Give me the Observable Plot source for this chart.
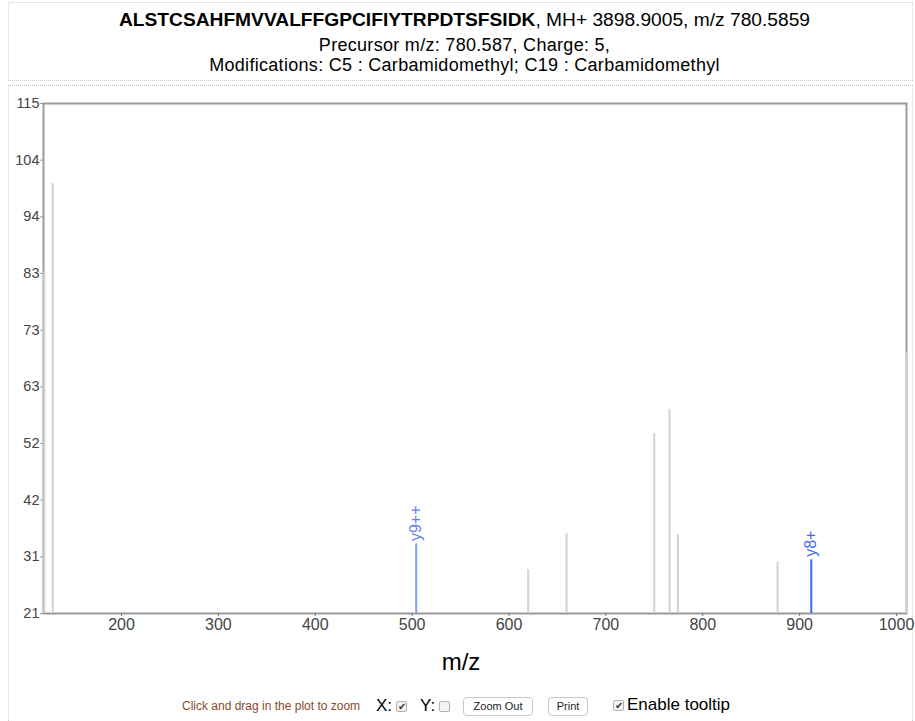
<!DOCTYPE html>
<html>
<head>
<meta charset="utf-8">
<script src="https://cdn.jsdelivr.net/npm/d3@7"></script>
<script src="https://cdn.jsdelivr.net/npm/@observablehq/plot@0.6"></script>
<style>
  html, body { margin: 0; padding: 0; background: #fff; }
  body { width: 915px; height: 721px; position: relative; overflow: hidden; font-family: "Liberation Sans", Arial, sans-serif; }
  .box { position: absolute; border: 1px dotted #c3d0d9; box-sizing: border-box; }
  .line { position: absolute; left: 7px; width: 100%; text-align: center; white-space: nowrap; color: #000; line-height: 17px; font-size: 18px; letter-spacing: 0.3px; }
  #chart { position: absolute; left: 0; top: 85px; }
  #xlabel { position: absolute; left: 411px; width: 100px; text-align: center; top: 650px; font-size: 24px; line-height: 24px; color: #000; }
  .ctl { position: absolute; white-space: nowrap; }
  .btn { position: absolute; top: 697px; height: 19px; border: 1px solid #c8c8c8; border-radius: 4px; box-sizing: border-box; font-size: 11px; line-height: 17px; text-align: center; background: #fff; color: #222; }
  .cb { position: absolute; width: 11px; height: 11px; border: 1px solid #b0b0b0; border-radius: 2px; box-sizing: border-box; background: #f4f4f4; font-size: 10px; line-height: 9px; text-align: center; color: #333; }
</style>
</head>
<body>
<div class="box" style="left:8px; top:2px; width:905px; height:79px;"></div>
<div class="box" style="left:8px; top:85px; width:905px; height:660px;"></div>
<div class="line" style="top:11px; font-size:19.2px; letter-spacing:0;"><b>ALSTCSAHFMVVALFFGPCIFIYTRPDTSFSIDK</b>, MH+ 3898.9005, m/z 780.5859</div>
<div class="line" style="top:36.5px;">Precursor m/z: 780.587, Charge: 5,</div>
<div class="line" style="top:57px;">Modifications: C5 : Carbamidomethyl; C19 : Carbamidomethyl</div>
<div id="chart"></div>
<div id="xlabel">m/z</div>
<div class="ctl" style="left:182px; top:699px; font-size:12px; color:#8b4a2b;">Click and drag in the plot to zoom</div>
<div class="ctl" style="left:376px; top:696px; font-size:17px; color:#000;">X:</div>
<div class="cb" style="left:396px; top:701px;">&#10004;</div>
<div class="ctl" style="left:420px; top:696px; font-size:17px; color:#000;">Y:</div>
<div class="cb" style="left:439px; top:701px;"></div>
<div class="btn" style="left:463px; width:70px;">Zoom Out</div>
<div class="btn" style="left:548px; width:40px;">Print</div>
<div class="cb" style="left:613px; top:700px;">&#10004;</div>
<div class="ctl" style="left:627px; top:695px; font-size:17px; color:#000;">Enable tooltip</div>
<script>
// Unmatched (gray) peaks
const peakMz = [120.3, 129.1, 619.8, 659.4, 749.9, 765.7, 774.3, 877.2, 1010.2];
const peakIntensity = [84, 100.2, 29.1, 35.7, 54.1, 58.6, 35.5, 30.4, 69];
// Annotated ions
const ionMz = [504.2, 912.0];
const ionIntensity = [33.8, 30.9];
const ionLabels = ["y9++", "y8+"];
const ionColors = ["#7fa0ef", "#3d6cf0"];
const ionTextColors = ["#5f86ea", "#3d6cf0"];
// Axes
const xDomain = [119.5, 1010.3];
const yMin = 21, yMax = 115;
const xTicks = [200, 300, 400, 500, 600, 700, 800, 900, 1000];
const yTickLabels = ["21", "31", "42", "52", "63", "73", "83", "94", "104", "115"];

const peaks = peakMz.map((m, i) => ({mz: m, intensity: peakIntensity[i]}));
const ions = ionMz.map((m, i) => ({mz: m, intensity: ionIntensity[i], label: ionLabels[i], color: ionColors[i], tcolor: ionTextColors[i]}));
const yTickVals = yTickLabels.map((_, i) => yMin + i * (yMax - yMin) / (yTickLabels.length - 1));
const yFmt = d => { const i = yTickVals.findIndex(v => Math.abs(v - d) < 1e-6); return i >= 0 ? yTickLabels[i] : ""; };

const ionMarks = ions.flatMap(d => [
  Plot.ruleX([d], {x: "mz", y1: yMin, y2: "intensity", stroke: d.color, strokeWidth: 2}),
  Plot.text([d], {x: "mz", y: "intensity", text: "label", rotate: -90, textAnchor: "start", dy: -3, fill: d.tcolor, fontSize: 16})
]);

const chart = Plot.plot({
  width: 915,
  height: 560,
  marginLeft: 43,
  marginRight: 9,
  marginTop: 18,
  marginBottom: 32,
  style: {fontFamily: "Liberation Sans, Arial, sans-serif", background: "transparent", overflow: "visible"},
  x: {domain: xDomain},
  y: {domain: [yMin, yMax]},
  marks: [
    Plot.frame({stroke: "#999", strokeWidth: 2}),
    Plot.ruleX(peaks, {x: "mz", y1: yMin, y2: "intensity", stroke: "#d2d2d2", strokeWidth: 2}),
    ...ionMarks,
    Plot.axisX({ticks: xTicks, tickFormat: d => String(d), tickSize: 3, tickPadding: 2, fontSize: 16, label: null, color: "#444", stroke: "#777"}),
    Plot.axisY({ticks: yTickVals, tickFormat: yFmt, tickSize: 3, tickPadding: 1, fontSize: 14.5, label: null, color: "#444", stroke: "#999"})
  ]
});
document.getElementById("chart").appendChild(chart);
</script>
</body>
</html>
